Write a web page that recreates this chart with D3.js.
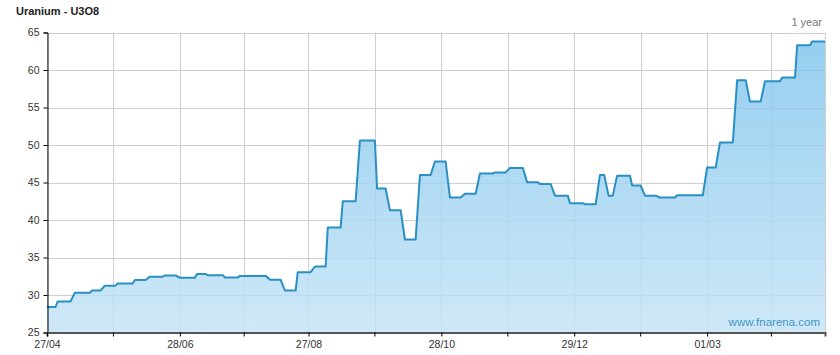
<!DOCTYPE html>
<html>
<head>
<meta charset="utf-8">
<script src="https://cdn.jsdelivr.net/npm/d3@7"></script>
<style>
  html, body { margin: 0; padding: 0; background: #fff; }
  svg { display: block; }
  text { font-family: "Liberation Sans", Arial, sans-serif; }
</style>
</head>
<body>
<svg id="chart" width="840" height="355"></svg>
<script>
// ---- data ----
const dates = [
  "2021-04-27","2021-05-01","2021-05-02","2021-05-08","2021-05-10","2021-05-17","2021-05-18","2021-05-22",
  "2021-05-24","2021-05-29","2021-05-30","2021-06-06","2021-06-07","2021-06-12","2021-06-14","2021-06-20",
  "2021-06-21","2021-06-26","2021-06-28","2021-07-05","2021-07-06","2021-07-10","2021-07-11","2021-07-18",
  "2021-07-19","2021-07-25","2021-07-26","2021-08-07","2021-08-09","2021-08-14","2021-08-16","2021-08-21",
  "2021-08-22","2021-08-28","2021-08-30","2021-09-04","2021-09-05","2021-09-11","2021-09-12","2021-09-18",
  "2021-09-20","2021-09-27","2021-09-28","2021-10-02","2021-10-04","2021-10-09","2021-10-11","2021-10-16",
  "2021-10-18","2021-10-23","2021-10-25","2021-10-30","2021-11-01","2021-11-06","2021-11-08","2021-11-13",
  "2021-11-15","2021-11-21","2021-11-22","2021-11-27","2021-11-29","2021-12-05","2021-12-07","2021-12-12",
  "2021-12-13","2021-12-18","2021-12-20","2021-12-26","2021-12-27","2022-01-02","2022-01-03","2022-01-08",
  "2022-01-10","2022-01-12","2022-01-14","2022-01-16","2022-01-18","2022-01-24","2022-01-25","2022-01-29",
  "2022-01-31","2022-02-05","2022-02-07","2022-02-14","2022-02-15","2022-02-27","2022-03-01","2022-03-05",
  "2022-03-07","2022-03-13","2022-03-15","2022-03-19","2022-03-21","2022-03-26","2022-03-28","2022-04-04",
  "2022-04-05","2022-04-11","2022-04-12","2022-04-18","2022-04-19","2022-04-25"
];
const prices = [
  28.4,28.4,29.15,29.15,30.3,30.3,30.6,30.6,
  31.25,31.25,31.55,31.55,32.0,32.0,32.45,32.45,
  32.6,32.6,32.3,32.3,32.8,32.8,32.65,32.65,
  32.35,32.35,32.55,32.55,32.05,32.05,30.6,30.6,
  33.05,33.05,33.8,33.8,39.0,39.0,42.5,42.5,
  50.6,50.6,44.2,44.2,41.3,41.3,37.4,37.4,
  46.0,46.0,47.8,47.8,43.0,43.0,43.5,43.5,
  46.2,46.2,46.35,46.35,46.95,46.95,45.05,45.05,
  44.8,44.8,43.25,43.25,42.25,42.25,42.1,42.1,
  46.0,46.0,43.25,43.25,45.9,45.9,44.6,44.6,
  43.25,43.25,43.0,43.0,43.3,43.3,47.0,47.0,
  50.35,50.35,58.65,58.65,55.8,55.8,58.5,58.5,
  59.0,59.0,63.3,63.3,63.8,63.8
];
const yTicks = [25, 30, 35, 40, 45, 50, 55, 60, 65];
const labelTickDates = ["2021-04-27","2021-06-28","2021-08-27","2021-10-28","2021-12-29","2022-03-01"];
const minorTickDates = ["2021-05-28","2021-07-28","2021-09-27","2021-11-28","2022-01-29","2022-03-31"];
const title = "Uranium - U3O8";
const periodLabel = "1 year";
const watermark = "www.fnarena.com";

// ---- layout ----
const parse = d3.utcParse("%Y-%m-%d");
const fmt = d3.utcFormat("%d/%m");
const L = 47, R = 825, T = 32.5, B = 332.5;
const data = dates.map((d, i) => ({ date: parse(d), v: prices[i] }));

const x = d3.scaleUtc().domain([parse(dates[0]), parse(dates[dates.length - 1])]).range([L, R]);
const y = d3.scaleLinear().domain([25, 65]).range([B, T]);

const svg = d3.select("#chart");

// gradient
const defs = svg.append("defs");
const grad = defs.append("linearGradient").attr("id", "fillGrad")
  .attr("gradientUnits", "userSpaceOnUse").attr("x1", 0).attr("y1", T).attr("x2", 0).attr("y2", B);
grad.append("stop").attr("offset", "0%").attr("stop-color", "#7cc3ec");
grad.append("stop").attr("offset", "100%").attr("stop-color", "#c4e3f6");

// gridlines
const allTicks = labelTickDates.concat(minorTickDates).map(parse);
svg.append("g").selectAll("line.v").data(allTicks).join("line")
  .attr("x1", d => Math.round(x(d)) + 0.5).attr("x2", d => Math.round(x(d)) + 0.5)
  .attr("y1", T).attr("y2", B).attr("stroke", "#cfcfcf").attr("stroke-width", 1);
svg.append("g").selectAll("line.h").data(yTicks).join("line")
  .attr("x1", L).attr("x2", R).attr("y1", d => Math.round(y(d)) + 0.5).attr("y2", d => Math.round(y(d)) + 0.5)
  .attr("stroke", "#cfcfcf").attr("stroke-width", 1);
// right border
svg.append("line").attr("x1", R + 0.5).attr("x2", R + 0.5).attr("y1", T).attr("y2", B)
  .attr("stroke", "#cfcfcf");

// area
const area = d3.area().x(d => x(d.date)).y0(B).y1(d => y(d.v));
svg.append("path").datum(data).attr("d", area)
  .attr("fill", "url(#fillGrad)").attr("fill-opacity", 0.82);

// line
const line = d3.line().x(d => x(d.date)).y(d => y(d.v));
svg.append("path").datum(data).attr("d", line)
  .attr("fill", "none").attr("stroke", "#2a8fc2").attr("stroke-width", 2)
  .attr("stroke-linejoin", "round");

// watermark
svg.append("text").attr("x", R - 5).attr("y", 326).attr("text-anchor", "end")
  .attr("font-size", "11.5px").attr("fill", "#3f97c9").text(watermark);

// y axis
const yAxis = svg.append("g").attr("transform", `translate(${L + 0.5},0)`)
  .call(d3.axisLeft(y).tickValues(yTicks).tickSize(4).tickPadding(4).tickFormat(d3.format("d")));
yAxis.select(".domain").attr("stroke", "#000");
yAxis.selectAll(".tick line").attr("stroke", "#000");
yAxis.selectAll("text").attr("font-size", "10.5px").attr("fill", "#333")
  .attr("font-family", "'Liberation Sans', Arial, sans-serif");

// x axis
const xAxis = svg.append("g").attr("transform", `translate(0,${B})`)
  .call(d3.axisBottom(x).tickValues(labelTickDates.map(parse)).tickSize(4).tickPadding(4).tickFormat(fmt));
xAxis.select(".domain").attr("stroke", "#555").attr("stroke-width", 2);
xAxis.selectAll(".tick line").attr("stroke", "#000");
xAxis.selectAll("text").attr("font-size", "10.5px").attr("fill", "#333")
  .attr("font-family", "'Liberation Sans', Arial, sans-serif");
svg.append("g").attr("transform", `translate(0,${B})`).selectAll("line")
  .data(minorTickDates.map(parse)).join("line")
  .attr("x1", d => x(d)).attr("x2", d => x(d)).attr("y1", 0).attr("y2", 4).attr("stroke", "#000");

// titles
svg.append("text").attr("x", 16).attr("y", 15).attr("font-size", "11px").attr("font-weight", "bold")
  .attr("fill", "#222").text(title);
svg.append("text").attr("x", R - 3).attr("y", 26).attr("text-anchor", "end")
  .attr("font-size", "11px").attr("fill", "#777").text(periodLabel);
</script>
</body>
</html>
